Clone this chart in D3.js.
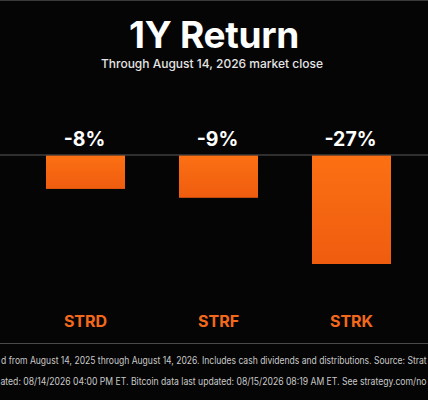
<!DOCTYPE html>
<html><head><meta charset="utf-8">
<script src="https://cdn.jsdelivr.net/npm/d3@7"></script>
<style>
html,body{margin:0;padding:0;background:#050505;}
svg{display:block;}
text{font-family:Inter,"Noto Sans",Roboto,sans-serif;}
</style></head>
<body>
<svg id="c" width="428" height="400"></svg>
<script>
const categories = ["STRD", "STRF", "STRK"];
const returns = [-8.4, -10.6, -27.0];          // bar lengths (%)
const valueLabels = ["-8%", "-9%", "-27%"];
const title = "1Y Return";
const subtitle = "Through August 14, 2026 market close";
// footnotes as visible in the (cropped) reference
const footnote1 = "d from August 14, 2025 through August 14, 2026. Includes cash dividends and distributions. Source: Strat";
const footnote2 = "ated: 08/14/2026 04:00 PM ET. Bitcoin data last updated: 08/15/2026 08:19 AM ET. See strategy.com/no";

const W = 428, H = 400;
const svg = d3.select("#c");

svg.append("rect").attr("width", W).attr("height", H).attr("fill", "#050505");
svg.append("line").attr("x1", 0).attr("x2", W).attr("y1", 0.5).attr("y2", 0.5)
  .attr("stroke", "#3a3a3a").attr("stroke-width", 1);

const defs = svg.append("defs");
const g = defs.append("linearGradient").attr("id", "barGrad")
  .attr("x1", 0).attr("y1", 0).attr("x2", 0).attr("y2", 1);
g.append("stop").attr("offset", "0%").attr("stop-color", "#fc7013");
g.append("stop").attr("offset", "100%").attr("stop-color", "#ef5c0f");

// Title
svg.append("text").attr("x", 214).attr("y", 48).attr("text-anchor", "middle")
  .attr("fill", "#ffffff").attr("font-size", 37).attr("font-weight", 700)
  .attr("letter-spacing", -0.3).text(title);
svg.append("text").attr("x", 212).attr("y", 68).attr("text-anchor", "middle")
  .attr("fill", "#e4e4e4").attr("font-size", 12).attr("font-weight", 500)
  .text(subtitle);

// Scales
const x = d3.scaleBand().domain(categories).range([19, 418])
  .paddingInner(0.406).paddingOuter(0.203);
const y = d3.scaleLinear().domain([0, -27]).range([155, 264]);

// zero line
svg.append("line").attr("x1", 0).attr("x2", W).attr("y1", y(0)).attr("y2", y(0))
  .attr("stroke", "#5a5a5a").attr("stroke-width", 1.2);

const data = categories.map((c, i) => ({c, v: returns[i], label: valueLabels[i]}));

svg.selectAll("rect.bar").data(data).join("rect").attr("class", "bar")
  .attr("x", d => x(d.c)).attr("width", x.bandwidth())
  .attr("y", d => y(0) + 0.6).attr("height", d => y(d.v) - y(0) - 0.6)
  .attr("fill", "url(#barGrad)");

svg.selectAll("text.val").data(data).join("text").attr("class", "val")
  .attr("x", d => x(d.c) + x.bandwidth() / 2 - 1).attr("y", 146)
  .attr("text-anchor", "middle").attr("fill", "#ffffff")
  .attr("font-size", 19.5).attr("font-weight", 700).text(d => d.label);

svg.selectAll("text.cat").data(data).join("text").attr("class", "cat")
  .attr("x", d => x(d.c) + x.bandwidth() / 2).attr("y", 327)
  .attr("text-anchor", "middle").attr("fill", "#f3691c")
  .attr("font-size", 16).attr("font-weight", 700).text(d => d.c);

// footer separator
svg.append("line").attr("x1", 0).attr("x2", W).attr("y1", 343.5).attr("y2", 343.5)
  .attr("stroke", "#4a4a4a").attr("stroke-width", 1.2);

function footer(str, yPos, left, right) {
  const grp = svg.append("g");
  const t = grp.append("text").attr("x", 0).attr("y", 0).attr("fill", "#c9c9c9")
    .attr("font-size", 10).attr("font-weight", 400).text(str);
  const L = t.node().getComputedTextLength();
  const k = (right - left) / L;
  grp.attr("transform", `translate(${left},${yPos}) scale(${k},1)`);
}
footer(footnote1, 364, 1, 427);
footer(footnote2, 385, 0.5, 427);
</script>
</body></html>
